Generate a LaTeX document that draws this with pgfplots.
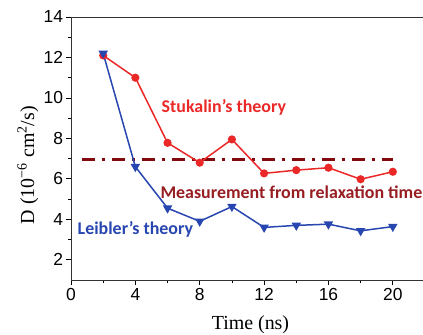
\documentclass[border=0pt]{standalone}
\usepackage{fontspec}
\setmainfont{Liberation Sans}
\newfontfamily\seriff{Liberation Serif}
\newfontfamily\carl{Carlito}
\usepackage{pgfplots}
\pgfplotsset{compat=1.18}
\definecolor{sred}{RGB}{235,40,40}
\definecolor{lblue}{RGB}{40,70,175}
\definecolor{mred}{RGB}{150,30,35}
\definecolor{dashc}{RGB}{130,10,15}
\begin{document}
\begin{tikzpicture}
\path[use as bounding box] (-71bp,-55bp) rectangle (352bp,280bp);
\begin{axis}[at={(0,0)}, anchor=south west, scale only axis,
  width=354bp, height=263bp,
  xmin=0, xmax=22, ymin=1, ymax=14,
  xtick={0,4,...,20}, ytick={2,4,...,14},
  minor x tick num=1, minor y tick num=1,
  xtick pos=bottom, ytick pos=left,
  tick align=outside, major tick length=4.5bp, minor tick length=2.5bp,
  tick style={black, line width=0.8pt},
  axis line style={line width=1pt, black!80},
  ticklabel style={font=\fontsize{17.5}{17.5}\selectfont},
  /pgf/number format/assume math mode=true,
  xlabel={\seriff\fontsize{20}{20}\selectfont Time (ns)},
  ylabel={\seriff\fontsize{20}{20}\selectfont D (10\textsuperscript{−6} cm\textsuperscript{2}/s)},
  xlabel style={at={(axis description cs:0.507,-0.171)}, anchor=center},
  ylabel style={at={(axis description cs:-0.122,0.437)}, anchor=center},
  clip=false,
]
\addplot[dashc, line width=2.5bp, dash pattern=on 13bp off 7bp on 3bp off 7bp] coordinates {(0.66,6.96) (20,6.96)};
\addplot[sred, line width=1.5bp, mark=*, mark size=3.3bp, mark options={solid}] coordinates {
(2,12.1) (4,11.0) (6,7.78) (8,6.8) (10,7.95) (12,6.27) (14,6.43) (16,6.55) (18,5.98) (20,6.35)};
\addplot[lblue, line width=1.5bp, mark=triangle*, mark size=4bp, mark options={solid, rotate=180}] coordinates {
(2,12.2) (4,6.6) (6,4.55) (8,3.9) (10,4.63) (12,3.6) (14,3.7) (16,3.76) (18,3.43) (20,3.64)};
\node[sred, font=\carl\bfseries\fontsize{18}{18}\selectfont, anchor=center] at (axis cs:9.5,9.54) {Stukalin’s theory};
\node[mred, font=\carl\bfseries\fontsize{18}{18}\selectfont, anchor=center] at (axis cs:13.7,5.35) {Measurement from relaxation time};
\node[lblue, font=\carl\bfseries\fontsize{18}{18}\selectfont, anchor=center] at (axis cs:4.0,3.48) {Leibler’s theory};
\end{axis}
\end{tikzpicture}
\end{document}
